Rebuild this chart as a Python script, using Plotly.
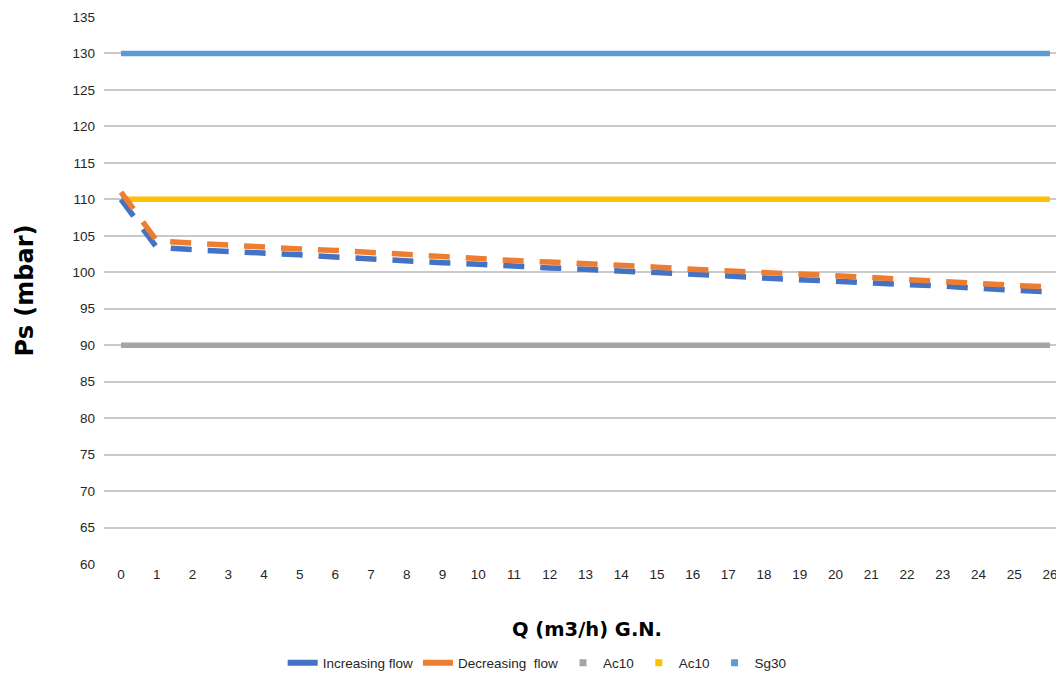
import plotly.graph_objects as go

q = list(range(27))
increasing = [110.0, 103.4, 103.1, 102.9, 102.7, 102.4, 102.1, 101.8, 101.5, 101.3,
              101.1, 100.8, 100.6, 100.4, 100.2, 100.0, 99.7, 99.5, 99.2, 99.0,
              98.8, 98.6, 98.4, 98.1, 97.8, 97.6, 97.3]
decreasing = [111.0, 104.3, 104.0, 103.7, 103.5, 103.2, 103.0, 102.7, 102.4, 102.1,
              101.9, 101.6, 101.4, 101.2, 100.9, 100.7, 100.4, 100.2, 99.9, 99.7,
              99.5, 99.3, 99.0, 98.7, 98.4, 98.2, 98.0]
ac10_low = [90] * 27
ac10_high = [110] * 27
sg30 = [130] * 27

names = ["Increasing flow", "Decreasing  flow", "Ac10", "Ac10", "Sg30"]
colors = ["#4472C4", "#ED7D31", "#A5A5A5", "#FFC000", "#5B9BD5"]

fig = go.Figure()
# reference lines
for ys, c in [(ac10_low, colors[2]), (ac10_high, colors[3]), (sg30, colors[4])]:
    fig.add_trace(go.Scatter(x=q, y=ys, mode="lines", line=dict(color=c, width=5.5),
                             showlegend=False, hoverinfo="skip"))
# measured series
fig.add_trace(go.Scatter(x=q, y=increasing, mode="lines",
                         line=dict(color=colors[0], width=5.5, dash="21px,16px"),
                         showlegend=False))
fig.add_trace(go.Scatter(x=q, y=decreasing, mode="lines",
                         line=dict(color=colors[1], width=5.5, dash="21px,16px"),
                         showlegend=False))
# legend entries
for n, c in zip(names[:2], colors[:2]):
    fig.add_trace(go.Scatter(x=[None], y=[None], mode="lines", name=n,
                             line=dict(color=c, width=6)))
for n, c in zip(names[2:], colors[2:]):
    fig.add_trace(go.Scatter(x=[None], y=[None], mode="markers", name=n,
                             marker=dict(color=c, size=7, symbol="square")))

fig.update_layout(
    width=1056, height=673,
    margin=dict(l=104, r=0, t=17, b=109, autoexpand=False),
    paper_bgcolor="white", plot_bgcolor="white",
    font=dict(family="Liberation Sans, Arial, sans-serif", size=13, color="#262626"),
    xaxis=dict(range=[-0.476, 26.17], tickmode="linear", tick0=0, dtick=1,
               showgrid=False, zeroline=False, showline=False, ticks="",
               ticklabeloverflow="allow",
               tickfont=dict(size=13.5, color="#262626")),
    yaxis=dict(range=[60, 135], tickmode="linear", tick0=60, dtick=5,
               showgrid=True, gridcolor="#C9C9C9", gridwidth=2,
               zeroline=False, showline=False, ticks="", ticklabelstandoff=8,
               tickfont=dict(size=13.5, color="#262626")),
    legend=dict(orientation="h", x=0.455, xanchor="center", y=-0.181, yanchor="middle",
                font=dict(size=13.5, color="#262626"), itemwidth=30),
    annotations=[
        dict(text="Ps (mbar)", xref="paper", yref="paper", x=-0.084, y=0.5,
             textangle=-90, showarrow=False, xanchor="center", yanchor="middle",
             font=dict(family="DejaVu Sans", size=24, color="#000000", weight="bold")),
        dict(text="Q (m3/h) G.N.", xref="paper", yref="paper", x=0.507, y=-0.12,
             showarrow=False, xanchor="center", yanchor="middle",
             font=dict(family="DejaVu Sans", size=19.5, color="#000000", weight="bold")),
    ],
)

fig.write_html("out.html", config={"displayModeBar": False},
               post_script="document.body.style.margin='0';")
